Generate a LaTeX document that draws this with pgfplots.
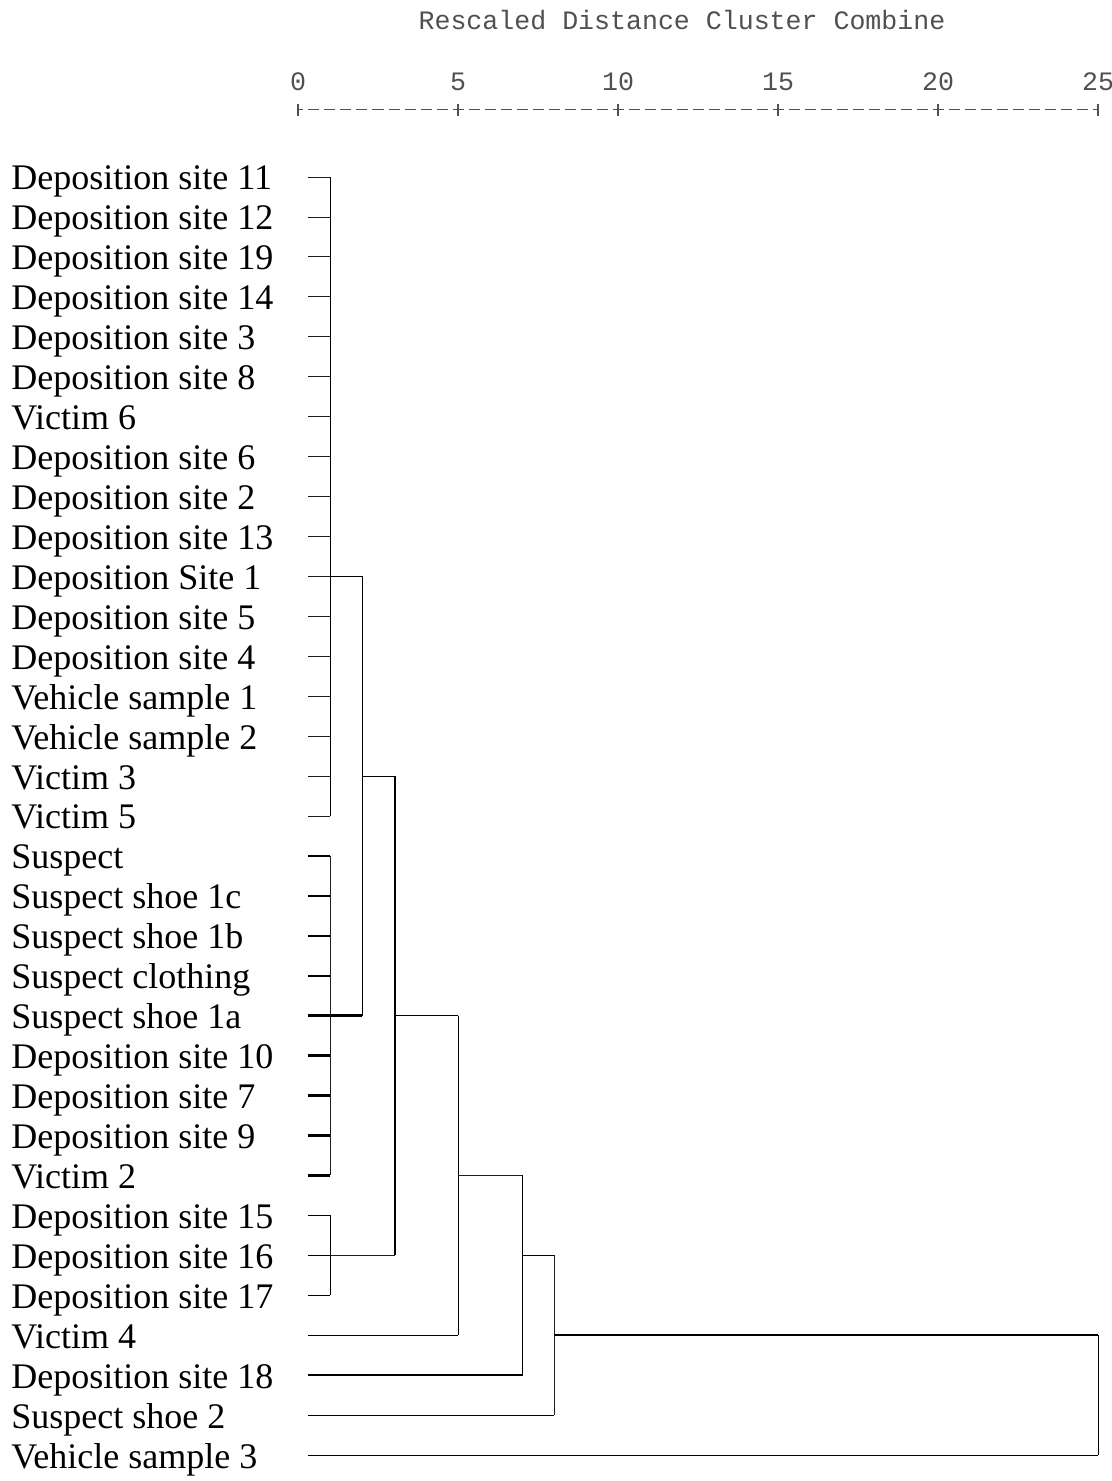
\documentclass[border=0pt]{standalone}
\usepackage{fontspec}
\setmainfont{Liberation Serif}
\setmonofont{Liberation Mono}
\usepackage{pgfplots}
\pgfplotsset{compat=1.18}
\definecolor{dline}{HTML}{1E1E1E}
\definecolor{mono}{HTML}{505050}
\begin{document}
\begin{tikzpicture}
\begin{axis}[
  name=ax,
  scale only axis, width=400pt, height=672.5pt,
  xmin=0, xmax=25, ymin=-33, ymax=0.678,
  clip=false,
  axis x line*=top, axis y line*=left,
  y axis line style={draw=none},
  x axis line style={draw=mono, line width=0.5pt, dash pattern=on 5.5pt off 2.5pt, dash phase=2.75pt},
  xtick={0,5,10,15,20,25},
  xticklabels={0,5,10,15,20,25},
  tick align=center,
  major tick length=6pt,
  xtick style={draw=mono, line width=0.55pt},
  ytick style={draw=none},
  xticklabel style={font=\fontsize{13.3}{15}\ttfamily, text=mono, anchor=south, inner sep=0pt, yshift=6.5pt},
  ytick={-1,-2,-3,-4,-5,-6,-7,-8,-9,-10,-11,-12,-13,-14,-15,-16,-17,-18,-19,-20,-21,-22,-23,-24,-25,-26,-27,-28,-29,-30,-31,-32,-33},
  yticklabels={Deposition site 11,Deposition site 12,Deposition site 19,Deposition site 14,Deposition site 3,Deposition site 8,Victim 6,Deposition site 6,Deposition site 2,Deposition site 13,Deposition Site 1,Deposition site 5,Deposition site 4,Vehicle sample 1,Vehicle sample 2,Victim 3,Victim 5,Suspect,Suspect shoe 1c,Suspect shoe 1b,Suspect clothing,Suspect shoe 1a,Deposition site 10,Deposition site 7,Deposition site 9,Victim 2,Deposition site 15,Deposition site 16,Deposition site 17,Victim 4,Deposition site 18,Suspect shoe 2,Vehicle sample 3},
  yticklabel style={font=\fontsize{18}{21}\selectfont, anchor=west, inner sep=0pt, text height=13pt, text depth=0pt, xshift=-140.5pt, text=black},
  title={Rescaled Distance Cluster Combine},
  title style={font=\fontsize{13.3}{15}\ttfamily, text=mono, at={(0.48,1)}, anchor=center, yshift=39pt},
  unbounded coords=jump,
  cycle list={{draw=dline, line width=1.2pt, line cap=rect, solid, mark=none}},
  no markers,
]
% leaf lines
\addplot coordinates {(0.31,-1)(1,-1)(nan,nan)(0.31,-2)(1,-2)(nan,nan)(0.31,-3)(1,-3)(nan,nan)(0.31,-4)(1,-4)(nan,nan)(0.31,-5)(1,-5)(nan,nan)(0.31,-6)(1,-6)(nan,nan)(0.31,-7)(1,-7)(nan,nan)(0.31,-8)(1,-8)(nan,nan)(0.31,-9)(1,-9)(nan,nan)(0.31,-10)(1,-10)(nan,nan)(0.31,-11)(1,-11)(nan,nan)(0.31,-12)(1,-12)(nan,nan)(0.31,-13)(1,-13)(nan,nan)(0.31,-14)(1,-14)(nan,nan)(0.31,-15)(1,-15)(nan,nan)(0.31,-16)(1,-16)(nan,nan)(0.31,-17)(1,-17)};
\addplot coordinates {(0.31,-18)(1,-18)(nan,nan)(0.31,-19)(1,-19)(nan,nan)(0.31,-20)(1,-20)(nan,nan)(0.31,-21)(1,-21)(nan,nan)(0.31,-22)(1,-22)(nan,nan)(0.31,-23)(1,-23)(nan,nan)(0.31,-24)(1,-24)(nan,nan)(0.31,-25)(1,-25)(nan,nan)(0.31,-26)(1,-26)};
\addplot coordinates {(0.31,-27)(1,-27)(nan,nan)(0.31,-28)(1,-28)(nan,nan)(0.31,-29)(1,-29)};
% cluster A
\addplot coordinates {(1,-1)(1,-17)};
\addplot coordinates {(1,-11)(2,-11)};
% cluster B
\addplot coordinates {(1,-18)(1,-26)};
\addplot coordinates {(1,-22)(2,-22)};
\addplot coordinates {(2,-11)(2,-22)};
\addplot coordinates {(2,-16)(3.03,-16)};
% cluster C
\addplot coordinates {(1,-27)(1,-29)};
\addplot coordinates {(1,-28)(3.03,-28)};
\addplot coordinates {(3.03,-16)(3.03,-28)};
\addplot coordinates {(3.03,-22)(5,-22)};
% Victim 4
\addplot coordinates {(0.31,-30)(5,-30)};
\addplot coordinates {(5,-22)(5,-30)};
\addplot coordinates {(5,-26)(7,-26)};
% Deposition site 18
\addplot coordinates {(0.31,-31)(7,-31)};
\addplot coordinates {(7,-26)(7,-31)};
\addplot coordinates {(7,-28)(8,-28)};
% Suspect shoe 2
\addplot coordinates {(0.31,-32)(8,-32)};
\addplot coordinates {(8,-28)(8,-32)};
\addplot coordinates {(8,-30)(25,-30)};
% Vehicle sample 3
\addplot coordinates {(0.31,-33)(25,-33)};
\addplot coordinates {(25,-30)(25,-33)};
\end{axis}
\pgfresetboundingbox
\path ([shift={(-149pt,-13pt)}]ax.south west) rectangle ([shift={(407pt,727.5pt)}]ax.south west);
\end{tikzpicture}
\end{document}
